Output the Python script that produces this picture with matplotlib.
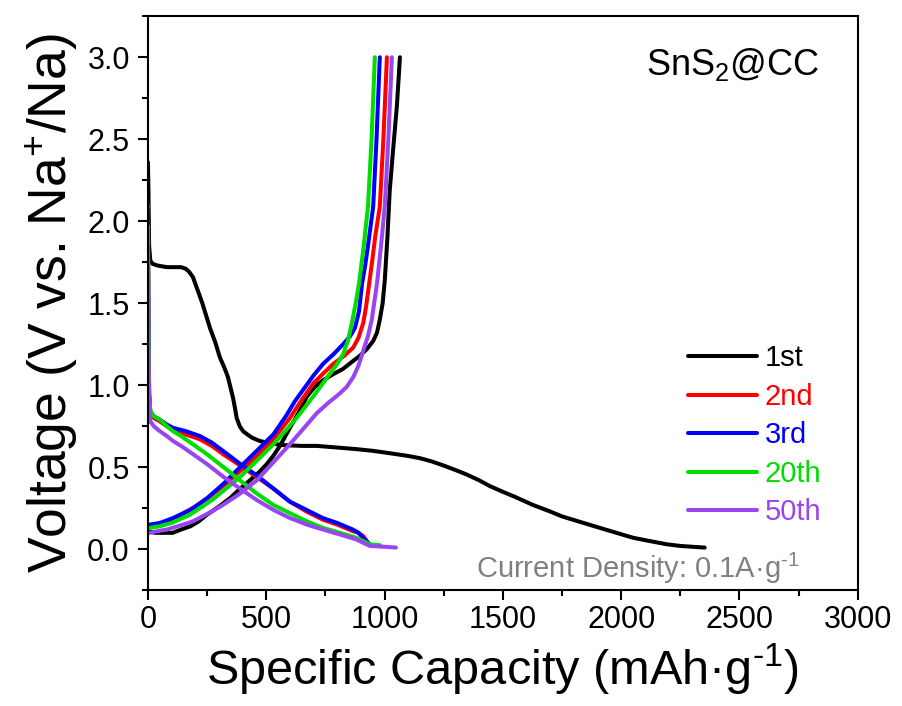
import matplotlib
matplotlib.use("Agg")
import matplotlib.pyplot as plt
from matplotlib.ticker import MultipleLocator

plt.rcParams['font.family'] = ['Liberation Sans', 'DejaVu Sans']
plt.rcParams['mathtext.fontset'] = 'custom'
plt.rcParams['mathtext.rm'] = 'Liberation Sans'
plt.rcParams['axes.unicode_minus'] = False

# cycle labels and colours
labels = ['1st', '2nd', '3rd', '20th', '50th']
colors = ['black', '#ff0000', '#0000ff', '#00dd00', '#9a45f2']

# discharge curves (capacity mAh/g, voltage V)
d1_cap = [0, 2, 5, 10, 20, 40, 80, 120, 140, 160, 175, 190, 210, 230, 262, 285, 304, 325, 338, 350, 360, 368, 375,
          388, 402, 420, 440, 473, 520, 570, 650, 714, 800, 883, 950, 1000, 1094, 1150, 1200, 1250, 1305, 1348, 1400,
          1445, 1500, 1550, 1627, 1700, 1750, 1830, 1910, 1980, 2050, 2120, 2193, 2250, 2300, 2353]
d1_v = [2.36, 2.2, 1.85, 1.76, 1.74, 1.73, 1.72, 1.72, 1.72, 1.71, 1.69, 1.66, 1.58, 1.50, 1.35, 1.26, 1.17, 1.10,
        1.05, 0.98, 0.92, 0.86, 0.80, 0.75, 0.72, 0.70, 0.68, 0.66, 0.645, 0.635, 0.63, 0.63, 0.62, 0.61, 0.60, 0.59,
        0.57, 0.555, 0.535, 0.51, 0.48, 0.455, 0.42, 0.385, 0.35, 0.32, 0.27, 0.23, 0.20, 0.165, 0.13, 0.10, 0.07,
        0.05, 0.03, 0.02, 0.015, 0.01]
d2_cap = [0, 2, 5, 10, 25, 50, 80, 106, 160, 220, 270, 317, 390, 460, 530, 600, 670, 739, 800, 866, 890, 910, 925]
d2_v = [2.10, 1.5, 0.95, 0.83, 0.80, 0.78, 0.75, 0.73, 0.70, 0.67, 0.63, 0.58, 0.51, 0.44, 0.37, 0.29, 0.23, 0.18,
        0.15, 0.11, 0.10, 0.08, 0.05]
d3_cap = [0, 2, 5, 10, 25, 50, 80, 106, 160, 220, 270, 317, 390, 460, 530, 600, 670, 739, 800, 866, 890, 908, 938]
d3_v = [2.07, 1.5, 0.95, 0.84, 0.81, 0.79, 0.76, 0.74, 0.72, 0.69, 0.65, 0.60, 0.52, 0.45, 0.37, 0.29, 0.24, 0.19,
        0.16, 0.12, 0.10, 0.07, 0.03]
d20_cap = [0, 2, 5, 10, 25, 50, 80, 106, 140, 180, 249, 320, 389, 460, 530, 600, 672, 740, 811, 880, 938, 980]
d20_v = [1.97, 1.4, 0.95, 0.84, 0.81, 0.79, 0.75, 0.72, 0.69, 0.65, 0.58, 0.50, 0.42, 0.34, 0.27, 0.22, 0.17, 0.13,
         0.10, 0.07, 0.03, 0.025]
d50_cap = [0, 2, 5, 10, 25, 50, 80, 106, 140, 180, 249, 320, 389, 460, 530, 600, 672, 740, 811, 880, 938, 1000, 1048]
d50_v = [1.85, 1.3, 0.90, 0.78, 0.75, 0.72, 0.69, 0.66, 0.63, 0.59, 0.52, 0.44, 0.37, 0.30, 0.24, 0.19, 0.15, 0.12,
         0.09, 0.06, 0.02, 0.015, 0.01]

# charge curves
c1_cap = [0, 30, 70, 105, 140, 180, 215, 249, 300, 346, 390, 431, 470, 503, 530, 558, 600, 640, 671, 705, 740, 780,
          825, 860, 896, 925, 952, 968, 980, 992, 1001, 1012, 1022, 1037, 1052, 1065]
c1_v = [0.11, 0.10, 0.10, 0.10, 0.12, 0.14, 0.17, 0.21, 0.26, 0.31, 0.37, 0.42, 0.47, 0.52, 0.57, 0.63, 0.74, 0.84,
        0.93, 0.99, 1.03, 1.065, 1.10, 1.14, 1.18, 1.22, 1.27, 1.32, 1.40, 1.50, 1.64, 1.90, 2.19, 2.45, 2.70, 3.00]
c2_cap = [0, 30, 60, 106, 150, 200, 260, 330, 400, 470, 540, 600, 650, 698, 740, 783, 830, 868, 890, 910, 922, 935,
          948, 960, 980, 995, 1010]
c2_v = [0.14, 0.14, 0.15, 0.18, 0.22, 0.26, 0.32, 0.40, 0.49, 0.58, 0.69, 0.80, 0.91, 1.01, 1.07, 1.13, 1.18, 1.23,
        1.29, 1.38, 1.48, 1.62, 1.76, 1.90, 2.09, 2.50, 3.00]
c3_cap = [0, 8, 50, 106, 180, 249, 320, 389, 460, 530, 587, 620, 655, 700, 740, 785, 825, 855, 875, 892, 905, 918,
          930, 952, 966, 980]
c3_v = [0.15, 0.15, 0.16, 0.19, 0.24, 0.31, 0.40, 0.50, 0.60, 0.70, 0.82, 0.90, 0.97, 1.06, 1.13, 1.19, 1.25, 1.30,
        1.35, 1.45, 1.62, 1.73, 1.85, 2.09, 2.50, 3.00]
c20_cap = [0, 8, 50, 100, 177, 230, 280, 330, 389, 460, 530, 580, 628, 698, 769, 800, 825, 845, 862, 878, 892, 912,
           930, 945, 959]
c20_v = [0.13, 0.13, 0.14, 0.16, 0.21, 0.26, 0.31, 0.37, 0.44, 0.54, 0.64, 0.72, 0.80, 0.93, 1.07, 1.13, 1.19, 1.27,
         1.38, 1.50, 1.62, 1.85, 2.09, 2.50, 3.00]
c50_cap = [0, 8, 40, 80, 148, 190, 230, 270, 317, 390, 460, 530, 600, 660, 714, 760, 811, 840, 868, 890, 910, 930,
           946, 968, 985, 1001, 1016, 1031]
c50_v = [0.10, 0.10, 0.11, 0.12, 0.15, 0.17, 0.20, 0.23, 0.27, 0.34, 0.42, 0.53, 0.64, 0.74, 0.83, 0.89, 0.95, 0.99,
         1.05, 1.12, 1.21, 1.30, 1.40, 1.62, 1.85, 2.09, 2.50, 3.00]

discharge = [(d1_cap, d1_v), (d2_cap, d2_v), (d3_cap, d3_v), (d20_cap, d20_v), (d50_cap, d50_v)]
charge = [(c1_cap, c1_v), (c2_cap, c2_v), (c3_cap, c3_v), (c20_cap, c20_v), (c50_cap, c50_v)]

fig = plt.figure(figsize=(9.02, 7.06), dpi=100)
ax = fig.add_axes([0.164, 0.164, 0.787, 0.813])

for i in range(len(labels)):
    ax.plot(discharge[i][0], discharge[i][1], color=colors[i], lw=2.9, label=labels[i],
            solid_joinstyle='round', solid_capstyle='round')
    ax.plot(charge[i][0], charge[i][1], color=colors[i], lw=2.9,
            solid_joinstyle='round', solid_capstyle='round')

ax.set_xlim(0, 3000)
ax.set_ylim(-0.25, 3.25)
ax.xaxis.set_major_locator(MultipleLocator(500))
ax.xaxis.set_minor_locator(MultipleLocator(250))
ax.yaxis.set_minor_locator(MultipleLocator(0.25))
ax.set_yticks([0, 0.5, 1.0, 1.5, 2.0, 2.5, 3.0])
ax.set_yticklabels(['0.0', '0.5', '1.0', '1.5', '2.0', '2.5', '3.0'])

for s in ax.spines.values():
    s.set_linewidth(1.5)
ax.tick_params(which='major', direction='out', length=7, width=1.5, labelsize=22)
ax.tick_params(axis='y', which='major', pad=6)
ax.tick_params(which='minor', direction='out', length=4, width=1.5)

ax.set_xlabel('Specific Capacity (mAh\u00b7g$\\mathregular{^{\\text{-}1}}$)', fontsize=35, labelpad=5)
ax.set_ylabel('Voltage (V vs. Na$\\mathregular{^{+}}$/Na)', fontsize=38.5, labelpad=5)

ax.text(0.946, 0.897, 'SnS$\\mathregular{_2}$@CC', transform=ax.transAxes, fontsize=26, ha='right', va='baseline')
ax.text(0.918, 0.021, 'Current Density: 0.1A\u00b7g$\\mathregular{^{\\text{-}1}}$', transform=ax.transAxes,
        fontsize=21, color='#808080', ha='right', va='baseline')

ax.legend(loc='center left', bbox_to_anchor=(0.761, 0.27), frameon=False, fontsize=21,
          handlelength=2.36, handletextpad=0.27, labelspacing=0.36, borderpad=0, borderaxespad=0,
          labelcolor='linecolor')

fig.savefig('out.png', dpi=100)
